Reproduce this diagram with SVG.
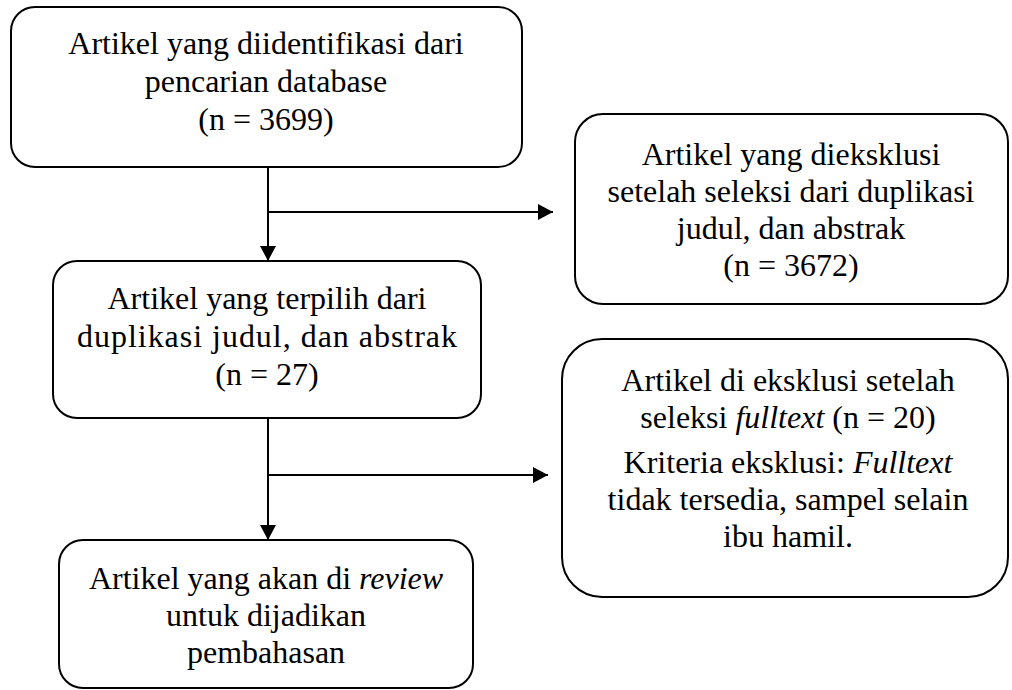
<svg xmlns="http://www.w3.org/2000/svg" width="1012" height="690" viewBox="0 0 1012 690">
<style>
.box{fill:#fff;stroke:#000;stroke-width:2}
.t{font-family:"Liberation Serif","Times New Roman",serif;font-size:32px;fill:#000;text-anchor:middle}
.i{font-style:italic}
.con{stroke:#000;stroke-width:2;fill:none}
</style>
<defs>
<marker id="ah" markerUnits="userSpaceOnUse" markerWidth="16" markerHeight="16" refX="15" refY="8" orient="auto">
<path d="M0,0 L15,8 L0,16 z" fill="#000"/>
</marker>
</defs>
<rect width="1012" height="690" fill="#fff"/>
<g id="connectors">
<line class="con" x1="268" y1="167" x2="268" y2="261" marker-end="url(#ah)"/>
<line class="con" x1="268" y1="212" x2="553" y2="212" marker-end="url(#ah)"/>
<line class="con" x1="268" y1="418" x2="268" y2="540" marker-end="url(#ah)"/>
<line class="con" x1="268" y1="475" x2="548" y2="475" marker-end="url(#ah)"/>
</g>
<g id="n1">
<rect class="box" x="11" y="7" width="511" height="160" rx="24"/>
<text class="t" x="266" y="54">Artikel yang diidentifikasi dari</text>
<text class="t" x="266" y="92">pencarian database</text>
<text class="t" x="266" y="130">(n = 3699)</text>
</g>
<g id="n2">
<rect class="box" x="575" y="114" width="433" height="190" rx="28"/>
<text class="t" x="791" y="165">Artikel yang dieksklusi</text>
<text class="t" x="791" y="202">setelah seleksi dari duplikasi</text>
<text class="t" x="791" y="239">judul, dan abstrak</text>
<text class="t" x="791" y="276">(n = 3672)</text>
</g>
<g id="n3">
<rect class="box" x="53" y="261" width="428" height="157" rx="24"/>
<text class="t" x="267" y="309">Artikel yang terpilih dari</text>
<text class="t" x="267" y="347" textLength="380" lengthAdjust="spacing">duplikasi judul, dan abstrak</text>
<text class="t" x="267" y="385">(n = 27)</text>
</g>
<g id="n4">
<rect class="box" x="562" y="339" width="446" height="258" rx="40"/>
<text class="t" x="788" y="391">Artikel di eksklusi setelah</text>
<text class="t" x="788" y="428">seleksi <tspan class="i">fulltext</tspan> (n = 20)</text>
<text class="t" x="788" y="473">Kriteria eksklusi: <tspan class="i">Fulltext</tspan></text>
<text class="t" x="788" y="510">tidak tersedia, sampel selain</text>
<text class="t" x="788" y="547">ibu hamil.</text>
</g>
<g id="n5">
<rect class="box" x="59" y="540" width="414" height="148" rx="24"/>
<text class="t" x="266" y="589">Artikel yang akan di <tspan class="i">review</tspan></text>
<text class="t" x="266" y="626">untuk dijadikan</text>
<text class="t" x="266" y="663">pembahasan</text>
</g>
</svg>
